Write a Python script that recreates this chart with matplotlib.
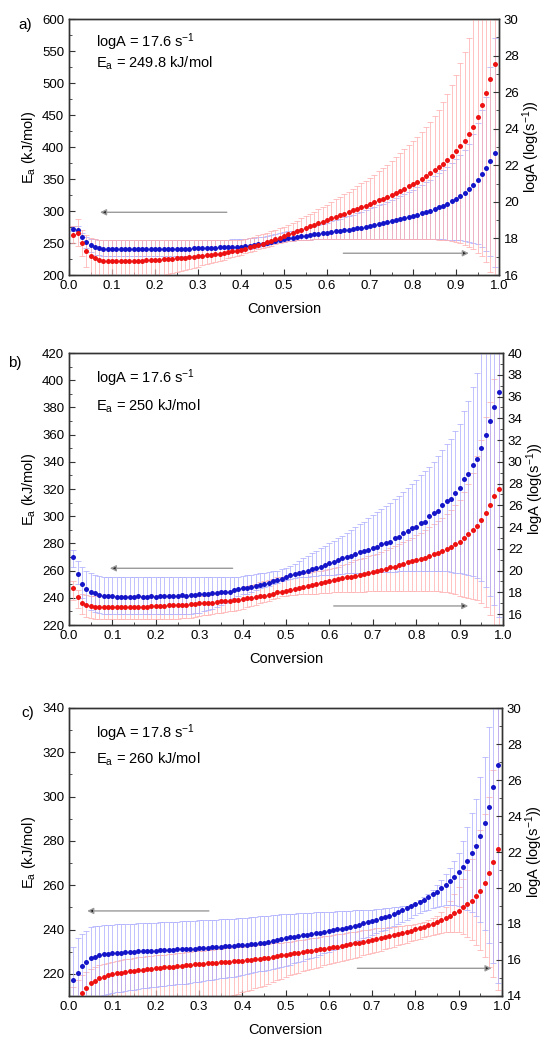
import numpy as np
import matplotlib.pyplot as plt
from matplotlib.ticker import MultipleLocator, FormatStrFormatter

plt.rcParams['font.family'] = ['Liberation Sans', 'DejaVu Sans']
plt.rcParams['mathtext.fontset'] = 'custom'
plt.rcParams['mathtext.rm'] = 'Liberation Sans'
plt.rcParams['mathtext.it'] = 'Liberation Sans:italic'
plt.rcParams['mathtext.bf'] = 'Liberation Sans:bold'
plt.rcParams['mathtext.default'] = 'regular'

# conversion grid 0.01 ... 0.99
conversion = np.round(np.arange(1, 100) * 0.01, 2)

# ---- panel a ----
a_blue = [272, 270, 259, 251, 247, 244, 242, 241, 240.5, 240,
          240, 240, 240, 240, 240, 240, 240, 240, 240, 240,
          240, 240, 240, 240.5, 240.5, 241, 241, 241, 241.5, 241.5,
          242, 242, 242.5, 242.5, 243, 243, 243.5, 244, 244, 244.5,
          245, 246, 247, 248, 249, 250.5, 252, 253.5, 255, 256.5,
          257.5, 258.5, 259.5, 260.5, 261.5, 262.5, 263.5, 264.5, 265, 266,
          267, 268, 269, 270, 271, 272, 273, 274, 275.5, 276.5,
          278, 279.5, 281, 282.5, 284, 285.5, 287, 289, 290.5, 292.5,
          294.5, 296.5, 298.5, 300.5, 303, 305.5, 308.5, 311.5, 315, 319,
          323.5, 328.5, 334.5, 341, 348.5, 357.5, 367, 378.5, 391]
a_blue_hi = [276, 276, 266, 260, 257, 256, 255, 254.5, 254.5, 254.5,
             254.5, 254.5, 254.5, 254.5, 254.5, 254.5, 254.5, 254.5, 254.5, 254.5,
             254.5, 254.5, 254.5, 254.5, 254.5, 254.5, 254.5, 254.5, 254.5, 254.5,
             254.5, 254.5, 254.5, 254.5, 254.5, 255, 255, 255.5, 256, 256.5,
             257, 257.5, 258, 259, 260, 261, 262, 263.5, 265, 266.5,
             268, 269.5, 271, 272.5, 274, 275.5, 277, 278.5, 280, 282,
             284, 286, 288, 290, 292, 294, 296.5, 299, 301.5, 304,
             306.5, 309, 311.5, 314, 317, 320, 323, 326.5, 330, 333.5,
             337, 341, 345, 349, 354, 359, 364, 369.5, 375, 381.5,
             388, 396, 405, 420, 438, 458, 478, 525, 570]
a_blue_lo = [268, 264, 252, 242, 236, 232, 231, 230, 230, 230,
             230, 230, 230, 230, 230, 230, 230, 230, 230, 230,
             230, 230, 230, 230, 230, 230, 230, 230, 230, 230,
             230.5, 231, 231.5, 232, 233, 234, 235, 236, 237, 238,
             239, 240.5, 242, 243.5, 245, 246.5, 248, 249.5, 251, 252,
             253, 253.5, 254, 254.5, 255, 255, 255.5, 255.5, 256, 256,
             256, 256, 256, 256, 256, 256, 256, 256, 256, 256,
             256, 256, 256, 256, 256, 256, 256, 256, 256, 256,
             256, 256, 256, 256, 256, 255.5, 255.5, 255, 255, 254.5,
             254, 253, 252, 250, 248, 244, 238, 229, 212]
a_red = [263, 266, 250, 237, 230, 226, 223.5, 222.5, 222, 222,
         222, 222, 222, 222, 222, 222.5, 222.5, 223, 223, 223.5,
         224, 224.5, 225, 225.5, 226, 226.5, 227, 227.5, 228, 229,
         229.5, 230.5, 231.5, 232.5, 233.5, 234.5, 235.5, 237, 238, 239.5,
         241, 243, 245, 247, 249, 251, 253.5, 256, 258.5, 261,
         263.5, 266, 268.5, 271, 273.5, 276, 278.5, 281, 283.5, 286,
         288.5, 291, 293.5, 296, 298.5, 301, 303.5, 306, 308.5, 311,
         313.5, 316.5, 319.5, 322.5, 325.5, 328.5, 331.5, 335, 338.5, 342,
         346, 350, 354.5, 359, 363.5, 368, 373, 379, 385.5, 393,
         401, 410, 420, 432, 447.5, 466, 485, 507, 530]
a_red_hi = [276, 287, 270, 263, 258, 256, 255, 254, 254, 254,
            254, 254, 254, 254, 254, 254, 254, 254, 254, 254,
            254, 254, 254, 254, 254, 254, 254, 254, 254, 254,
            254, 254, 254, 254, 254, 254, 254, 254, 254, 254,
            256, 258, 260, 262, 264, 266, 268, 270.5, 273, 275.5,
            278.5, 281.5, 285, 288.5, 292, 295.5, 299, 302.5, 306, 310,
            314, 318, 322, 326, 330, 334, 338.5, 343, 347.5, 352,
            357, 362, 367, 372.5, 378, 384, 390, 396.5, 403, 410,
            416, 423, 431, 439, 448, 458, 470, 483, 497, 513,
            531, 549, 570, 640, 640, 640, 640, 640, 640]
a_red_lo = [250, 245, 230, 212, 195, 185, 185, 185, 185, 185,
            185, 185, 185, 185, 185, 185, 185, 185, 185, 185,
            198, 200, 202, 203.5, 205, 206.5, 208, 210, 211.5, 213,
            215, 217, 218.5, 220, 222, 224, 226, 228, 230, 232,
            234, 236, 238, 240, 242, 244, 246, 248, 250, 252,
            253, 253.5, 254, 254.5, 255, 255, 255.5, 255.5, 256, 256,
            256, 256, 256, 256, 256, 256, 256, 256, 256, 256,
            256, 256, 256, 256, 256, 256, 256, 256, 256, 256,
            256, 256, 256, 255.5, 255.5, 255, 254.5, 254, 253, 252,
            250, 247, 244, 240, 235, 229, 221, 205, 180]

# ---- panel b ----
b_blue = [270, 257.5, 250.5, 246.5, 244.5, 243.3, 242, 241.5, 241, 241,
          240.5, 240.5, 240.5, 240.5, 240.5, 241, 240.5, 240.5, 241, 240.5,
          241, 241, 241.5, 241.5, 241.5, 242, 241.5, 242, 242, 242.5,
          242.5, 243, 243.5, 243.5, 244, 244, 244.5, 246, 246.5, 247,
          247.5, 248, 248.5, 249.5, 250, 251, 252, 253, 254, 255.5,
          256.5, 257.5, 258.5, 259, 260, 261, 262, 263, 264, 265.5,
          266.5, 268, 269, 270, 271, 272, 273.5, 274.5, 275.5, 276.5,
          277.5, 279.5, 280.5, 281, 284, 285, 287.5, 289, 291, 292,
          295, 295.5, 300, 302, 304, 308, 311, 313, 317, 321,
          327, 331, 338, 342, 350, 360, 370, 380.5, 391]
b_blue_hi = [275, 267, 262.5, 260, 258, 256.5, 256, 255, 255, 255,
             255, 255, 255, 255, 255, 255, 255, 255, 255, 255,
             255, 255, 255, 255, 255, 255, 255, 255, 255, 255,
             255, 255, 255, 255, 255, 255, 255, 255, 255.5, 256,
             256.5, 257, 257.5, 258, 258.5, 259, 259.5, 260, 261, 262,
             263.5, 265, 267, 269, 271, 273, 274.5, 276.5, 278, 280,
             282, 284, 285.5, 287.5, 290, 292, 294, 296, 298.5, 301,
             303, 305, 307.5, 310, 312.5, 315, 318, 320.5, 323.5, 326.5,
             330, 333, 336.5, 340, 344.5, 348.5, 353, 357, 362.5, 368,
             377, 385, 395, 405, 425, 440, 450, 460, 470]
b_blue_lo = [263, 250, 240, 234, 231, 229.5, 229, 228, 228, 228,
             228, 228, 228, 228, 228, 228, 228, 228, 228, 228,
             228, 228, 228, 228, 228, 228, 228, 228, 228.5, 229,
             230, 231, 232, 233.5, 235, 236.5, 238, 239.5, 241, 242.5,
             243, 244.5, 246, 247, 248, 249, 250, 251, 252, 253,
             254, 254.5, 255, 255.5, 255.5, 256, 256, 256.5, 256.5, 257,
             257, 257.5, 257.5, 258, 258, 258, 258, 258.5, 258.5, 258.5,
             259, 259, 259, 259, 259, 259.5, 259.5, 259.5, 259.5, 259.5,
             259.5, 259.5, 259.5, 259.5, 259.5, 260, 259.5, 259, 258.5, 258,
             257.5, 257, 256, 254.5, 252.5, 248, 241, 235, 226]
b_red = [247, 240.5, 236.5, 235, 234, 233.5, 233, 233, 233, 233,
         233, 233, 233, 233.5, 233, 233.5, 233.5, 233.5, 234, 234,
         234, 234, 234.5, 234.5, 234.5, 235, 235, 235.5, 235.5, 236,
         236, 236.5, 236.5, 237, 237.5, 237.5, 238, 238.5, 238.5, 239,
         239.5, 240, 240.5, 241, 241.5, 242, 243, 244, 244.5, 245,
         246, 246.5, 247, 248, 248.5, 249.5, 250, 251, 251.5, 252.5,
         253, 254, 254.5, 255, 255.5, 256, 257, 257.5, 258, 259,
         259.5, 260.5, 261.5, 262.5, 263, 264, 265, 266, 267, 268,
         268.5, 269.5, 270.5, 272, 273, 274.5, 276, 277.5, 279.5, 281,
         284, 287, 290, 293, 297, 302.5, 308, 314.5, 320]
b_red_hi = [252, 246, 243, 242, 241.5, 241, 241, 241, 241, 241,
            241, 241, 241, 241, 241, 241, 241, 241, 241, 241,
            241, 241, 241, 241, 241, 241, 241, 241, 241, 241,
            241.5, 242, 242.5, 243, 243.5, 244, 244.5, 245.5, 246.5, 247.5,
            248.5, 249.5, 250.5, 251.5, 252.5, 253, 254, 255, 255.5, 256,
            256.5, 257, 257.5, 258, 258.5, 259, 259.5, 260, 260.5, 261,
            262, 263, 264, 265, 266.5, 267.5, 268.5, 269.5, 270.5, 271.5,
            272.5, 274, 275, 276.5, 278, 279.5, 281, 282.5, 284, 286,
            288, 290, 292, 294, 296.5, 299, 301.5, 304.5, 308, 312,
            318, 324, 332, 344, 356, 373, 384, 401, 440]
b_red_lo = [238.5, 232.5, 228, 226, 225, 224.5, 224.5, 224.5, 224.5, 224.5,
            224.5, 224.5, 224.5, 224.5, 224.5, 224.5, 224.5, 224.5, 224.5, 224.5,
            224.5, 224.5, 224.5, 224.5, 224.5, 225, 225, 225.5, 226, 226.5,
            227, 227.5, 228, 228.5, 229, 229.5, 230, 230.5, 231, 232,
            233, 234, 235, 236, 237, 238, 239, 240, 241, 241.5,
            242, 242, 242.5, 242.5, 243, 243, 243, 243.5, 243.5, 243.5,
            244, 244, 244, 244, 244.5, 244.5, 244.5, 244.5, 245, 245,
            245, 245, 245, 245, 245, 245, 245, 245, 245, 245,
            245, 245, 245, 245, 245, 244.5, 244, 243.5, 242.5, 241.5,
            240.5, 240, 239, 238.5, 236, 233.5, 227.5, 220, 214]

# ---- panel c ----
c_blue = [217, 220.5, 223.5, 225.5, 227, 227.8, 228.4, 228.8, 229.1, 229.3,
          229.4, 229.6, 229.7, 229.8, 230, 230.1, 230.2, 230.3, 230.4, 230.5,
          230.6, 230.7, 230.8, 230.9, 231, 231.1, 231.2, 231.3, 231.4, 231.5,
          231.6, 231.8, 231.9, 232.1, 232.3, 232.4, 232.6, 232.7, 232.9, 233,
          233.2, 233.4, 233.6, 233.8, 234.1, 234.4, 234.8, 235.2, 235.6, 236.1,
          236.5, 236.8, 237.1, 237.4, 237.7, 238, 238.3, 238.6, 239, 239.3,
          239.7, 240.1, 240.4, 240.8, 241.2, 241.7, 242.2, 242.8, 243.3, 243.9,
          244.5, 245.1, 245.7, 246.3, 247, 247.8, 248.7, 249.6, 250.5, 251.4,
          252.3, 253.3, 254.5, 255.9, 257.1, 258.6, 260.1, 261.9, 263.9, 266,
          268.4, 271, 274.4, 277.8, 282.2, 288, 295.2, 304.2, 314.3]
c_blue_hi = [232, 236, 238, 239.5, 241, 241.5, 241.8, 242, 242.1, 242.2,
             242.3, 242.4, 242.5, 242.6, 242.7, 242.8, 242.9, 243, 243, 243.1,
             243.2, 243.3, 243.4, 243.5, 243.6, 243.7, 243.8, 243.9, 244, 244.1,
             244.2, 244.3, 244.4, 244.5, 244.6, 244.7, 244.8, 244.9, 245, 245.1,
             245.3, 245.5, 245.7, 245.9, 246.1, 246.3, 246.5, 246.7, 246.9, 247,
             247.1, 247.2, 247.3, 247.4, 247.5, 247.6, 247.7, 247.8, 247.9, 248,
             248.1, 248.2, 248.3, 248.4, 248.5, 248.6, 248.7, 248.8, 248.9, 249,
             249.2, 249.4, 249.6, 249.8, 250, 250.2, 250.4, 250.6, 251, 251.8,
             253.3, 254.5, 256, 258, 260, 262.5, 265, 268, 271, 274.5,
             280, 286.5, 292.5, 299, 309, 318, 331.5, 355, 380]
c_blue_lo = [202, 204, 206, 207.5, 209, 209.5, 210, 210.5, 211, 211.4,
             211.7, 212, 212.3, 212.6, 212.9, 213.2, 213.5, 213.8, 214, 214.2,
             214.4, 214.6, 214.8, 215, 215.2, 215.4, 215.6, 215.8, 216.1, 216.4,
             216.7, 217, 217.3, 217.6, 217.9, 218.2, 218.5, 218.8, 219.2, 219.5,
             219.9, 220.3, 220.7, 221.1, 221.5, 221.9, 222.3, 222.7, 223.1, 223.6,
             224.2, 224.8, 225.4, 226, 226.6, 227.2, 227.8, 228.5, 229.2, 230,
             230.7, 231.4, 232.2, 232.9, 233.7, 234.4, 235.2, 236, 236.8, 237.6,
             238.4, 239.2, 240, 240.8, 241.6, 242.5, 243.4, 244.4, 245.4, 246.5,
             247.5, 248.3, 249, 249.6, 250.1, 250.6, 251, 251.3, 251.2, 250.8,
             250, 249, 247.8, 246, 243.5, 239.8, 233.8, 224.8, 216]
c_red = [206, 208.5, 211.5, 213.7, 215.7, 216.9, 218, 218.7, 219.4, 220,
         220.3, 220.6, 220.9, 221.2, 221.5, 221.7, 221.9, 222.1, 222.3, 222.5,
         222.7, 222.9, 223.1, 223.3, 223.5, 223.7, 223.9, 224.1, 224.3, 224.4,
         224.6, 224.7, 224.9, 225, 225.2, 225.3, 225.5, 225.7, 225.8, 226,
         226.2, 226.4, 226.6, 226.8, 227, 227.3, 227.6, 227.9, 228.3, 228.7,
         229, 229.3, 229.6, 229.9, 230.2, 230.5, 230.8, 231.1, 231.4, 231.7,
         232, 232.3, 232.7, 233, 233.4, 233.8, 234.1, 234.5, 234.9, 235.3,
         235.7, 236.2, 236.6, 237.1, 237.5, 238, 238.5, 239, 239.5, 240.1,
         240.7, 241.3, 241.9, 242.6, 243.4, 244.2, 245.1, 246.1, 247.3, 248.5,
         250, 251.4, 253, 255.1, 257.5, 261.1, 265.3, 270.6, 276.2]
c_red_hi = [214, 217, 219.5, 221, 222, 223, 223.8, 224.5, 225, 225.5,
            226, 226.3, 226.6, 226.9, 227.2, 227.5, 227.7, 227.9, 228.1, 228.3,
            228.5, 228.7, 228.9, 229.1, 229.3, 229.5, 229.7, 229.9, 230.1, 230.3,
            230.5, 230.7, 230.9, 231.1, 231.3, 231.5, 231.7, 231.9, 232.1, 232.3,
            232.5, 232.7, 232.9, 233.1, 233.3, 233.5, 233.7, 233.9, 234.1, 234.3,
            234.6, 234.9, 235.2, 235.5, 235.8, 236.1, 236.4, 236.7, 237, 237.3,
            237.6, 237.9, 238.2, 238.5, 238.8, 239.1, 239.4, 239.7, 240, 240.3,
            240.5, 240.7, 240.9, 241.1, 241.3, 241.5, 241.7, 241.9, 242.1, 242.3,
            242.8, 243.4, 244.1, 245, 246.3, 248, 250.2, 253, 256, 259,
            263, 267, 272, 278, 285, 292, 300, 312, 345]
c_red_lo = [195, 196, 197, 198, 199, 199.5, 200, 200.5, 201, 201.5,
            202, 202.3, 202.6, 202.9, 203.2, 203.5, 203.8, 204, 204.2, 204.4,
            204.6, 204.8, 205, 205.3, 205.6, 205.9, 206.2, 206.5, 206.8, 207.1,
            207.4, 207.8, 208.2, 208.6, 209, 209.5, 210, 210.5, 211, 211.6,
            212.2, 212.8, 213.4, 214, 214.7, 215.4, 216.2, 217, 217.8, 218.6,
            219.3, 220, 220.6, 221.2, 221.8, 222.3, 222.8, 223.3, 223.8, 224.3,
            224.8, 225.3, 225.8, 226.3, 226.8, 227.3, 227.8, 228.3, 228.8, 229.3,
            229.9, 230.5, 231.1, 231.7, 232.3, 232.9, 233.5, 234.1, 234.7, 235.3,
            235.9, 236.5, 237, 237.5, 238, 238.4, 238.7, 238.9, 238.9, 238.7,
            238, 236.8, 235.2, 233, 230.8, 227.8, 223.3, 218.7, 212.7]

RED, BLUE = '#ee1111', '#1414c8'
RED_BAR, BLUE_BAR = '#ffacac', '#aaaaff'


def draw_panel(rect, label, label_xy, red, red_lo, red_hi, blue, blue_lo, blue_hi,
               ylim, ymajor, yminor, rlim, rmajor, texts, text_y, arrows, red_on_top):
    ax = fig.add_axes(rect)
    x = conversion
    series = [(blue, blue_lo, blue_hi, BLUE_BAR), (red, red_lo, red_hi, RED_BAR)]
    if not red_on_top:
        series = series[::-1]
    for z, (v, lo, hi, c) in enumerate(series):
        v, lo, hi = np.array(v), np.array(lo), np.array(hi)
        yerr = [np.clip(v - lo, 0, None), np.clip(hi - v, 0, None)]
        ax.errorbar(x, v, yerr=yerr, fmt='none', ecolor=c, elinewidth=0.6,
                    capsize=2.2, capthick=0.6, alpha=0.85, zorder=2 + z)
    ax.plot(x, blue, 'o', ms=3.6, mew=0, color=BLUE, zorder=6)
    ax.plot(x, red, 'o', ms=3.6, mew=0, color=RED, zorder=6)

    ax.set_xlim(0, 1)
    ax.set_ylim(*ylim)
    ax.xaxis.set_major_locator(MultipleLocator(0.1))
    ax.xaxis.set_minor_locator(MultipleLocator(0.05))
    ax.xaxis.set_major_formatter(FormatStrFormatter('%.1f'))
    ax.yaxis.set_major_locator(MultipleLocator(ymajor))
    ax.yaxis.set_minor_locator(MultipleLocator(yminor))
    ax.tick_params(which='both', direction='in', top=False, right=False,
                   labelsize=9.5, color='#333333')
    ax.tick_params(which='major', length=4)
    ax.tick_params(which='minor', length=2)
    ax.set_xlabel('Conversion', fontsize=10.5, labelpad=7)
    ax.set_ylabel('E$_a$ (kJ/mol)', fontsize=10.5, labelpad=3)

    ax2 = ax.twinx()
    ax2.set_ylim(*rlim)
    ax2.yaxis.set_major_locator(MultipleLocator(rmajor))
    ax2.yaxis.set_minor_locator(MultipleLocator(1))
    ax2.tick_params(which='both', direction='in', labelsize=9.5, color='#333333')
    ax2.tick_params(which='major', length=4)
    ax2.tick_params(which='minor', length=2)
    ax2.set_ylabel('logA (log(s$^{-1}$))', fontsize=10.5, rotation=90, labelpad=1)
    for a in (ax, ax2):
        for s in a.spines.values():
            s.set_color('#333333')
            s.set_linewidth(1.0)

    for t, ty in zip(texts, text_y):
        ax.text(0.063, ty, t, transform=ax.transAxes, fontsize=10.5, va='center')

    for (x0, x1, y) in arrows:
        ax.annotate('', xy=(x1, y), xytext=(x0, y),
                    arrowprops=dict(arrowstyle='-|>', ec='#9a9a9a', fc='#222222',
                                    lw=1.0, mutation_scale=9, shrinkA=0, shrinkB=0),
                    zorder=7)
    fig.text(label_xy[0] / W, 1 - label_xy[1] / H, label, fontsize=11,
             ha='center', va='center')


W, H = 548, 1041
fig = plt.figure(figsize=(W / 100, H / 100), dpi=100)


def rect(l, r, t, b):
    return [l / W, 1 - b / H, (r - l) / W, (b - t) / H]


draw_panel(rect(69, 499, 19, 275), 'a)', (25, 25),
           a_red, a_red_lo, a_red_hi, a_blue, a_blue_lo, a_blue_hi,
           (200, 600), 50, 25, (16, 30), 2,
           ['logA = 17.6 s$^{-1}$', 'E$_a$ = 249.8 kJ/mol'], [0.91, 0.828],
           [(0.367, 0.072, 298), (0.638, 0.93, 234)], True)

draw_panel(rect(69, 503, 353, 625), 'b)', (15, 363),
           b_red, b_red_lo, b_red_hi, b_blue, b_blue_lo, b_blue_hi,
           (220, 420), 20, 10, (15, 40), 2,
           ['logA = 17.6 s$^{-1}$', 'E$_a$ = 250 kJ/mol'], [0.908, 0.805],
           [(0.377, 0.094, 261.7), (0.61, 0.92, 234)], False)

draw_panel(rect(69, 502, 708, 996), 'c)', (28, 713),
           c_red, c_red_lo, c_red_hi, c_blue, c_blue_lo, c_blue_hi,
           (210, 340), 20, 10, (14, 30), 2,
           ['logA = 17.8 s$^{-1}$', 'E$_a$ = 260 kJ/mol'], [0.913, 0.823],
           [(0.323, 0.042, 248.4), (0.666, 0.976, 222.5)], False)

fig.savefig('out.png', dpi=100)
